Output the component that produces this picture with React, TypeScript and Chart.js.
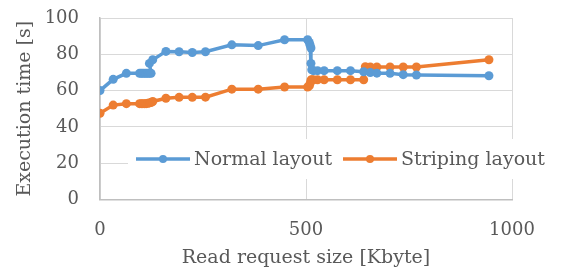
import React, { useEffect, useRef } from "react";
import { Chart, registerables } from "chart.js";

Chart.register(...registerables);

const normalX = [0, 32, 64, 96, 100, 104, 108, 112, 116, 120, 124, 120, 128, 160, 192, 224, 256, 320, 384, 448, 504, 508, 510, 512, 512, 514, 518, 528, 544, 576, 608, 640, 656, 672, 704, 736, 768, 944];
const normalY = [60, 66.2, 69.5, 69.5, 69.5, 69.5, 69.5, 69.5, 69.5, 69.5, 69.5, 75, 77, 81.6, 81.4, 81, 81.4, 85.2, 84.8, 88, 88, 86.5, 85, 83.5, 75, 71.5, 71, 71, 71, 71, 71, 70.4, 70, 69.6, 69.5, 68.8, 68.6, 68.2];
const stripingX = [0, 32, 64, 96, 100, 104, 108, 112, 116, 120, 124, 128, 160, 192, 224, 256, 320, 384, 448, 504, 508, 510, 512, 514, 518, 528, 544, 576, 608, 640, 644, 656, 672, 704, 736, 768, 944];
const stripingY = [47.5, 52, 52.8, 52.8, 52.8, 52.8, 52.8, 52.8, 53, 53.2, 53.4, 54, 55.8, 56.3, 56.3, 56.4, 60.8, 60.8, 62, 62, 62.6, 64, 65.8, 66, 66, 66, 66, 66, 66, 66, 73.2, 73, 73, 73, 73, 73, 77];

const seriesNames = ["Normal layout", "Striping layout"];
const colors = ["#5B9BD5", "#ED7D31"];
const xTicks = [0, 500, 1000];
const yTitle = "Execution time [s]";
const xTitle = "Read request size [Kbyte]";

const FONT = "'DejaVu Serif', serif";
const TEXT = "#595959";

const legendPlugin = {
  id: "insideLegend",
  afterDatasetsDraw(chart: any) {
    const ctx = chart.ctx;
    ctx.save();
    ctx.fillStyle = "#ffffff";
    ctx.fillRect(128, 139, 428, 40);
    ctx.font = "19px " + FONT;
    ctx.textBaseline = "middle";
    ctx.textAlign = "left";
    const y = 159;
    const items = [
      { x: 136, label: seriesNames[0], color: colors[0] },
      { x: 343, label: seriesNames[1], color: colors[1] },
    ];
    for (const it of items) {
      ctx.strokeStyle = it.color;
      ctx.lineWidth = 3.5;
      ctx.beginPath();
      ctx.moveTo(it.x, y);
      ctx.lineTo(it.x + 54, y);
      ctx.stroke();
      ctx.fillStyle = it.color;
      ctx.beginPath();
      ctx.arc(it.x + 27, y, 4, 0, Math.PI * 2);
      ctx.fill();
      ctx.fillStyle = TEXT;
      ctx.fillText(it.label, it.x + 58, y + 1);
    }
    ctx.restore();
  },
};

export default function App() {
  const ref = useRef<HTMLCanvasElement>(null);
  useEffect(() => {
    document.body.style.margin = "0";
    const mk = (xs: number[], ys: number[]) => xs.map((x, i) => ({ x, y: ys[i] }));
    const ds = (i: number, xs: number[], ys: number[]) => ({
      label: seriesNames[i],
      data: mk(xs, ys),
      borderColor: colors[i],
      backgroundColor: colors[i],
      borderWidth: 3.5,
      pointRadius: 4.5,
      pointHoverRadius: 4.5,
      pointBorderWidth: 0,
      tension: 0,
    });
    const chart = new Chart(ref.current!, {
      type: "line",
      data: {
        datasets: [ds(0, normalX, normalY), ds(1, stripingX, stripingY)],
      },
      options: {
        animation: false,
        responsive: false,
        layout: { padding: { top: 18, right: 49, left: 0, bottom: 0 } },
        plugins: { legend: { display: false }, tooltip: { enabled: false } },
        scales: {
          x: {
            type: "linear",
            min: 0,
            max: 1000,
            afterBuildTicks: (s: any) => {
              s.ticks = xTicks.map((v) => ({ value: v }));
            },
            afterFit: (s: any) => {
              s.height = 69.5;
              s.paddingLeft = 0;
              s.paddingRight = 0;
            },
            grid: { color: "#D9D9D9", drawTicks: false, lineWidth: 1 },
            border: { color: "#BFBFBF", width: 1.5 },
            ticks: {
              color: TEXT,
              font: { family: FONT, size: 18 },
              padding: 20,
              maxRotation: 0,
              callback: (v: any) => String(v),
            },
            title: { display: true, text: xTitle, color: TEXT, font: { family: FONT, size: 19 }, padding: { top: 8, bottom: 0 } },
          },
          y: {
            min: 0,
            max: 100,
            ticks: { stepSize: 20, color: TEXT, font: { family: FONT, size: 18 }, padding: 21 },
            afterFit: (s: any) => {
              s.width = 100;
              s.paddingTop = 0;
              s.paddingBottom = 0;
            },
            grid: { color: "#D9D9D9", drawTicks: false, lineWidth: 1 },
            border: { color: "#BFBFBF", width: 1.5 },
            title: { display: true, text: yTitle, color: TEXT, font: { family: FONT, size: 19 }, padding: { top: 14, bottom: 0 } },
          },
        },
      },
      plugins: [legendPlugin],
    });
    return () => chart.destroy();
  }, []);
  return (
    <div style={{ position: "absolute", left: 0, top: 0, width: 561, height: 269, background: "#fff" }}>
      <canvas ref={ref} width={561} height={269} style={{ width: 561, height: 269 }} />
    </div>
  );
}
